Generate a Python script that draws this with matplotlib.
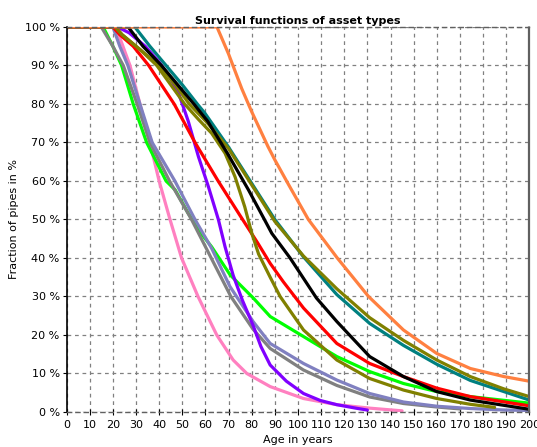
import matplotlib
matplotlib.use("Agg")
import matplotlib.pyplot as plt

# ---- data (age in years, survival fraction in %) ----
orange_age = [0, 65, 70, 75.7, 80, 87, 90, 96, 104.5, 117, 130.5, 145.6, 160, 174.5, 189, 200]
orange_pct = [100, 100, 93, 84, 78, 69, 65.5, 59, 50, 40, 30, 21.3, 15.2, 11.3, 9.2, 8]

teal_age = [0, 29.5, 36, 43, 50, 56.5, 59.8, 69.9, 80, 90, 102.4, 116.8, 131, 145.6, 160, 174.5, 200]
teal_pct = [100, 100, 95, 90, 85, 80, 77.6, 68.9, 59.4, 50, 40.3, 30.5, 23, 17.3, 12.4, 8.2, 3.1]

oliveA_age = [0, 21, 24, 32, 40, 47, 53, 61, 69.9, 80, 90, 102.4, 116.8, 131, 145.6, 160, 174.5, 189, 200]
oliveA_pct = [100, 100, 98, 94, 90, 85, 80, 75, 68.5, 59, 49.5, 40.5, 32, 24.5, 18.6, 13.5, 9.2, 6, 4]

oliveB_age = [0, 21, 24, 32, 39, 45, 51, 57, 62.7, 68.5, 72.8, 77, 80, 83, 88, 92.3, 102.4, 116.8, 131, 145.6, 160, 174.5, 185]
oliveB_pct = [100, 100, 98, 94, 90, 85, 80, 76, 72.4, 67.2, 61.1, 53.3, 46.5, 41, 35, 30, 21.3, 13.5, 8.7, 5.7, 3.5, 2, 1.2]

black_age = [0, 26.6, 33, 41, 48, 55, 61, 69.5, 78.6, 85.5, 88.7, 96.6, 108, 116.8, 131, 145.6, 160, 174.5, 200]
black_pct = [100, 100, 95, 90, 85, 80, 75.5, 67.2, 57.7, 50, 46.4, 40, 29.6, 23.5, 14.4, 9.2, 5.3, 3.1, 0.7]

red_age = [0, 20, 23, 28.8, 35.5, 41, 46.5, 55.5, 65.5, 75, 82.5, 88, 93.7, 102.4, 116.8, 131, 145.6, 160, 174.5, 200]
red_pct = [100, 100, 98, 95, 90, 85, 80, 70, 60, 51, 44, 38.6, 33.8, 27, 17.8, 12.6, 9.2, 6.2, 4, 1.6]

green_age = [0, 15.8, 20, 23.8, 28.8, 34.6, 43, 46.9, 52.6, 58, 62.7, 70.7, 80.7, 88, 102.4, 116.8, 131, 145.6, 160, 174.5, 200]
green_pct = [100, 100, 95, 90, 80, 70, 60, 57.7, 51.6, 46.5, 42.9, 35.6, 29.6, 24.8, 19.6, 14.4, 10.5, 7.4, 5.3, 4, 2.3]

purple_age = [0, 22, 27, 34, 40.4, 44, 48.3, 52.6, 57, 61.3, 65.6, 68.5, 72, 76, 80.6, 84, 88, 95, 102.4, 109.6, 116.8, 125, 130]
purple_pct = [100, 100, 98.5, 95, 90.6, 87.5, 83, 75.5, 66.3, 58.5, 50, 42.9, 35.5, 29, 22.5, 17, 12.2, 8, 4.8, 3, 1.9, 1, 0.5]

pink_age = [0, 21.3, 27.4, 31.7, 36, 40, 44.7, 49.7, 56.8, 64.9, 72, 77.9, 88, 102.4, 116.8, 131, 145]
pink_pct = [100, 100, 90, 80, 70, 60, 50, 40, 30, 20, 13.5, 10, 6.6, 3.5, 1.9, 1, 0.3]

gray_age = [0, 15, 20, 24.5, 30.5, 36, 44.5, 54, 62.5, 71, 80.6, 88, 102.4, 116.8, 131, 145.6, 160, 170]
gray_pct = [100, 100, 95, 90, 80, 70, 60, 50, 40, 30, 21.5, 16.5, 10.9, 6.9, 3.9, 2.2, 1.3, 0.8]

lav_age = [0, 20, 23, 26.5, 31.7, 37, 46.8, 55.5, 62.7, 70.6, 80.6, 88, 102.4, 116.8, 131, 145.6, 160, 174.5, 190, 200]
lav_pct = [100, 100, 95, 90, 80, 70, 60, 50, 42.5, 32.6, 23.5, 17.8, 12.6, 8.3, 4.8, 2.6, 1.5, 0.9, 0.5, 0.4]

x_ticks = list(range(0, 201, 10))
y_ticks = list(range(0, 101, 10))
y_ticklabels = [f"{v} %" for v in y_ticks]

series = [
    (pink_age, pink_pct, "#FF80C0"),
    (green_age, green_pct, "#00FF00"),
    (gray_age, gray_pct, "#808080"),
    (lav_age, lav_pct, "#8080C0"),
    (purple_age, purple_pct, "#8000FF"),
    (red_age, red_pct, "#FF0000"),
    (oliveB_age, oliveB_pct, "#808000"),
    (teal_age, teal_pct, "#008080"),
    (oliveA_age, oliveA_pct, "#808000"),
    (black_age, black_pct, "#000000"),
    (orange_age, orange_pct, "#FF8040"),
]

plt.rcParams['font.family'] = ['DejaVu Sans']
fig = plt.figure(figsize=(5.37, 4.47), dpi=100)
ax = fig.add_axes([0.124, 0.0783, 0.8617, 0.8613])

ax.grid(True, color="#808080", linestyle=(0, (3, 3)), linewidth=0.9)
ax.set_axisbelow(True)

for a, p, c in series:
    ax.plot(a, p, color=c, linewidth=2.3, solid_joinstyle="round", solid_capstyle="round")

ax.set_xlim(0, 200)
ax.set_ylim(0, 100)
ax.set_xticks(x_ticks)
ax.set_yticks(y_ticks)
ax.set_yticklabels(y_ticklabels)
ax.tick_params(axis="x", direction="inout", length=5, labelsize=8, pad=3)
ax.tick_params(axis="y", direction="out", length=3, labelsize=8, pad=2)

ax.spines["left"].set_color("black")
ax.spines["left"].set_linewidth(1.2)
for s in ["top", "bottom"]:
    ax.spines[s].set_linestyle((0, (3, 3)))
    ax.spines[s].set_color("#606060")
    ax.spines[s].set_linewidth(1.0)
ax.spines["right"].set_linestyle((0, (2, 1)))
ax.spines["right"].set_color("#606060")
ax.spines["right"].set_linewidth(1.6)

ax.set_title("Survival functions of asset types", fontsize=8, fontweight="bold", pad=2.5)
ax.set_xlabel("Age in years", fontsize=8, labelpad=4)
ax.set_ylabel("Fraction of pipes in %", fontsize=8, labelpad=4)

fig.savefig("out.png", dpi=100)
